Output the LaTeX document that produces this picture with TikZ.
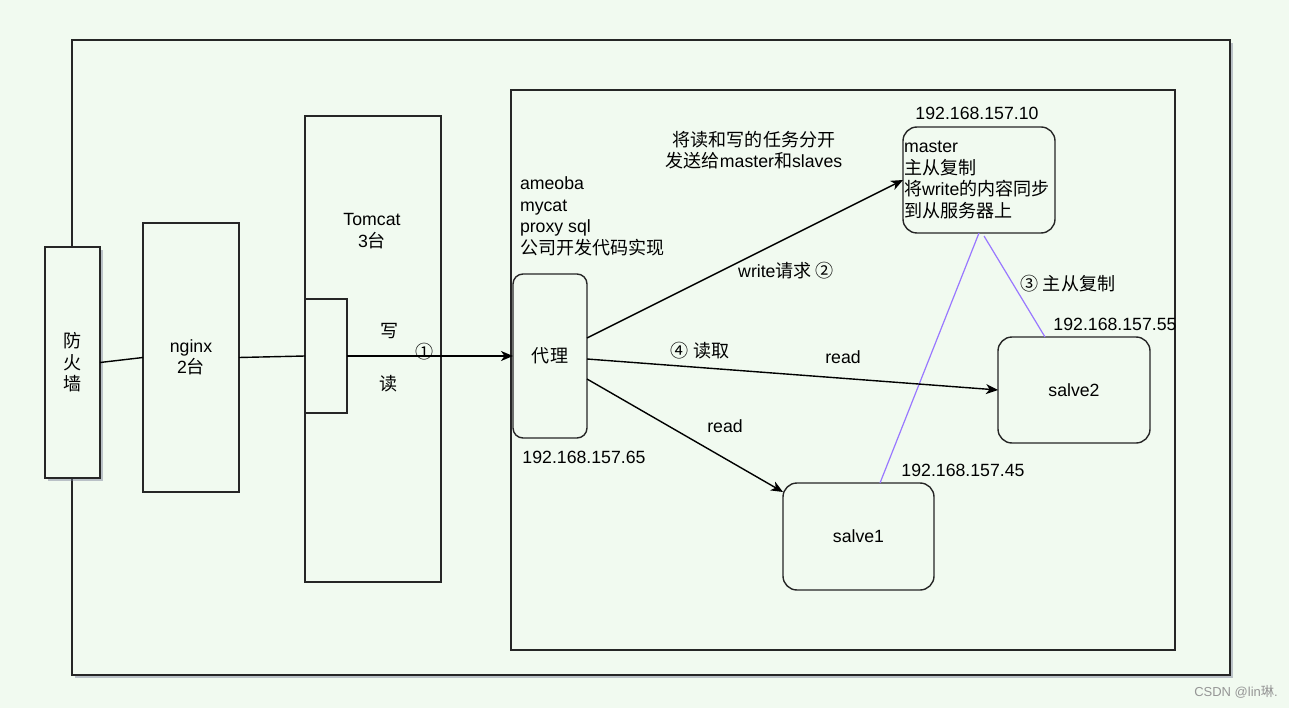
\documentclass[tikz,border=0pt]{standalone}
\usepackage{fontspec}
\setmainfont{Liberation Sans}
\newfontfamily\cjkf[Scale=1.02]{Noto Sans CJK SC}
\newcommand\z[1]{{\cjkf #1}}
\usetikzlibrary{arrows.meta,shadows,calc}
\definecolor{bg}{RGB}{241,250,240}
\definecolor{vio}{RGB}{153,119,255}
\definecolor{wm}{RGB}{150,150,150}
\definecolor{shc}{RGB}{120,125,150}
\begin{document}
\begin{tikzpicture}[x=1pt,y=-1pt,
  every node/.style={font=\fontsize{17.7}{21.5}\selectfont, inner sep=0pt, outer sep=0pt},
  box/.style={draw=black!85, line width=1.4pt, fill=bg},
  rbox/.style={box, rounded corners=14pt},
  shd/.style={drop shadow={shadow xshift=3pt, shadow yshift=-3pt, opacity=0.45, fill=shc}},
  lbl/.style={align=center},
  arr/.style={line width=1.4pt, -{Stealth[length=12pt, width=10pt, inset=3.5pt]}},
  ln/.style={line width=1.4pt},
  rep/.style={draw=vio, line width=1.2pt}]
\fill[bg] (0,0) rectangle (1289,708);
\useasboundingbox (0,0) rectangle (1289,708);

% containers
\node[box, shd, minimum width=1158pt, minimum height=635pt] (outer) at (651,357.5) {};
\node[box, minimum width=664pt, minimum height=560pt] (inner) at (843,370) {};

% left chain
\node[box, shd, minimum width=55pt, minimum height=231pt, align=center] (fw) at (72.5,362.5) {\z{防}\\\z{火}\\\z{墙}};
\node[box, minimum width=96pt, minimum height=269pt, align=center] (ngx) at (191,357.5) {nginx\\2\z{台}};
\node[box, minimum width=136pt, minimum height=466pt] (tomcat) at (373,349) {};
\node[lbl] (tcl) at (372,231) {Tomcat\\3\z{台}};
\node[box, minimum width=42pt, minimum height=114pt] (sm) at (326,356) {};
\node (wr) at (390,331) {\z{写}};
\node (rd) at (389,384) {\z{读}};

% proxy
\node[box, rounded corners=10pt, minimum width=74pt, minimum height=164pt] (proxy) at (550,356) {\z{代理}};
\node[align=left, anchor=west] (tools) at (520,216.5) {ameoba\\mycat\\proxy sql\\\z{公司开发代码实现}};
\node (ip65) at (584,457) {192.168.157.65};
\node[lbl] (task) at (754,150) {\z{将读和写的任务分开}\\\z{发送给}master\z{和}slaves};

% databases
\node[rbox, minimum width=152pt, minimum height=106pt] (master) at (979,180) {};
\node[align=left, anchor=west] (mtext) at ($(master.west)+(1,0)$)
  {master\\\z{主从复制}\\\z{将}write\z{的内容同步}\\\z{到从服务器上}};
\node (ip10) at (977,113) {192.168.157.10};
\node[rbox, minimum width=152pt, minimum height=106pt] (s2) at (1074,390) {salve2};
\node (ip55) at (1115,324) {192.168.157.55};
\node[rbox, minimum width=151pt, minimum height=107pt] (s1) at (858.5,536.5) {salve1};
\node (ip45) at (963,470) {192.168.157.45};

% connectors
\draw[ln] (fw.east) -- (ngx.west);
\draw[ln] (ngx.east) -- (sm.west);
\draw[arr] (sm.east) -- (proxy.west);
\node (n1) at (425,352) {\z{①}};

\coordinate (pw) at ($(proxy.east)+(0,-18)$);
\coordinate (pr) at ($(proxy.east)+(0,3)$);
\coordinate (pr1) at ($(proxy.east)+(0,23)$);
\coordinate (s1in) at ($(s1.north west)+(0,9)$);
\coordinate (m1) at ($(master.south)+(5,3)$);
\coordinate (s1top) at ($(s1.north)+(21.5,0)$);
\coordinate (s2top) at ($(s2.north)+(-29,0)$);

\draw[rep] (master.south) -- (s1top);
\draw[rep] (m1) -- (s2top);
\draw[arr] (pw) -- (master.west);
\draw[arr] (pr) -- (s2.west);
\draw[arr] (pr1) -- (s1in);

\node (wlbl) at (786,271) {write\z{请求 ②}};
\node (l4) at (700,351) {\z{④ 读取}};
\node (r2) at (843,357) {read};
\node (r1) at (725,426) {read};
\node (l3) at (1068,284) {\z{③ 主从复制}};

\node[text=wm, font=\fontsize{13}{15}\selectfont] (wmk) at (1236,692) {CSDN @lin\z{琳}.};
\end{tikzpicture}
\end{document}
